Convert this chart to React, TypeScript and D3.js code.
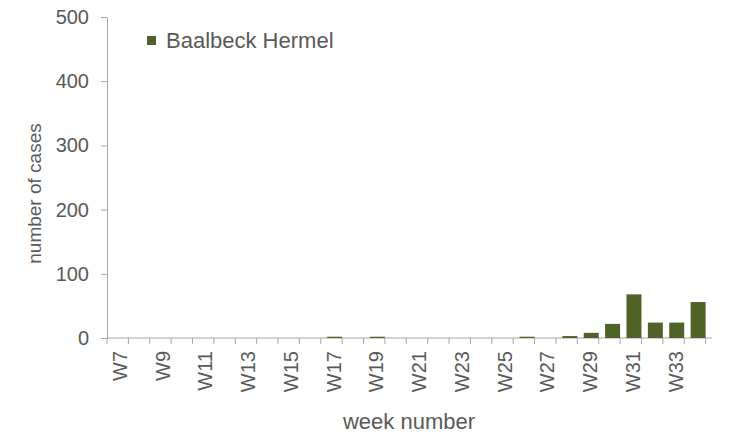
import { useEffect, useRef } from 'react';
import * as d3 from 'd3';

const weeks = [
  'W7', 'W8', 'W9', 'W10', 'W11', 'W12', 'W13', 'W14', 'W15', 'W16',
  'W17', 'W18', 'W19', 'W20', 'W21', 'W22', 'W23', 'W24', 'W25', 'W26',
  'W27', 'W28', 'W29', 'W30', 'W31', 'W32', 'W33', 'W34',
];
const baalbeckHermel = [
  0, 0, 0, 0, 0, 0, 0, 0, 0, 0,
  2, 0, 2, 0, 0, 0, 0, 0, 0, 2,
  0, 3, 8, 22, 68, 24, 24, 56,
];
const yTicks = [0, 100, 200, 300, 400, 500];
const seriesName = 'Baalbeck Hermel';

const BAR_COLOR = '#4f6228';
const TEXT_COLOR = '#595959';
const AXIS_COLOR = '#a6a6a6';
const FONT = '"Liberation Sans", Arial, sans-serif';

export default function App() {
  const svgRef = useRef<SVGSVGElement>(null);

  useEffect(() => {
    if (!svgRef.current) return;
    const svg = d3.select(svgRef.current);
    svg.selectAll('*').remove();

    const left = 107;
    const right = 712;
    const top = 17;
    const bottom = 338;

    const x = d3.scaleBand().domain(weeks).range([left, right]).padding(0.3);
    const y = d3.scaleLinear().domain([0, 500]).range([bottom, top]);

    // y axis
    const yAxis = svg.append('g').attr('transform', `translate(${left},0)`)
      .call(d3.axisLeft(y).tickValues(yTicks).tickSize(6).tickPadding(12).tickSizeOuter(0));
    yAxis.select('.domain').attr('stroke', AXIS_COLOR);
    yAxis.selectAll('.tick line').attr('stroke', AXIS_COLOR);
    yAxis.selectAll('.tick text')
      .attr('fill', TEXT_COLOR)
      .style('font-family', FONT)
      .style('font-size', '20px');

    // x axis
    const step = x.step();
    const xAxis = svg.append('g').attr('transform', `translate(0,${bottom})`);
    xAxis.append('line')
      .attr('x1', left).attr('x2', right)
      .attr('stroke', AXIS_COLOR);
    xAxis.selectAll('line.tk')
      .data(d3.range(weeks.length + 1))
      .enter()
      .append('line')
      .attr('class', 'tk')
      .attr('x1', (i) => left + i * step)
      .attr('x2', (i) => left + i * step)
      .attr('y1', 0)
      .attr('y2', 6)
      .attr('stroke', AXIS_COLOR);
    xAxis.selectAll('text')
      .data(weeks.filter((_, i) => i % 2 === 0))
      .enter()
      .append('text')
      .attr('transform', (d) => `translate(${(x(d) || 0) + x.bandwidth() / 2 + 6},${13}) rotate(-90)`)
      .attr('text-anchor', 'end')
      .attr('fill', TEXT_COLOR)
      .style('font-family', FONT)
      .style('font-size', '20px')
      .text((d) => d);

    // bars
    svg.append('g')
      .selectAll('rect')
      .data(weeks.map((w, i) => ({ w, v: baalbeckHermel[i] })))
      .enter()
      .append('rect')
      .attr('x', (d) => x(d.w) || 0)
      .attr('width', x.bandwidth())
      .attr('y', (d) => y(d.v))
      .attr('height', (d) => bottom - y(d.v))
      .attr('fill', BAR_COLOR);

    // axis titles
    svg.append('text')
      .attr('transform', `translate(41,${(top + bottom) / 2 + 16}) rotate(-90)`)
      .attr('text-anchor', 'middle')
      .attr('fill', TEXT_COLOR)
      .style('font-family', FONT)
      .style('font-size', '19px')
      .text('number of cases');

    svg.append('text')
      .attr('x', 409)
      .attr('y', 429)
      .attr('text-anchor', 'middle')
      .attr('fill', TEXT_COLOR)
      .style('font-family', FONT)
      .style('font-size', '22px')
      .text('week number');

    // legend
    svg.append('rect')
      .attr('x', 147).attr('y', 36)
      .attr('width', 9).attr('height', 9)
      .attr('fill', BAR_COLOR);
    svg.append('text')
      .attr('x', 166).attr('y', 48)
      .attr('fill', TEXT_COLOR)
      .style('font-family', FONT)
      .style('font-size', '22px')
      .text(seriesName);
  }, []);

  return (
    <svg
      ref={svgRef}
      width={735}
      height={438}
      style={{ position: 'absolute', left: 0, top: 0, background: '#fff' }}
    />
  );
}
